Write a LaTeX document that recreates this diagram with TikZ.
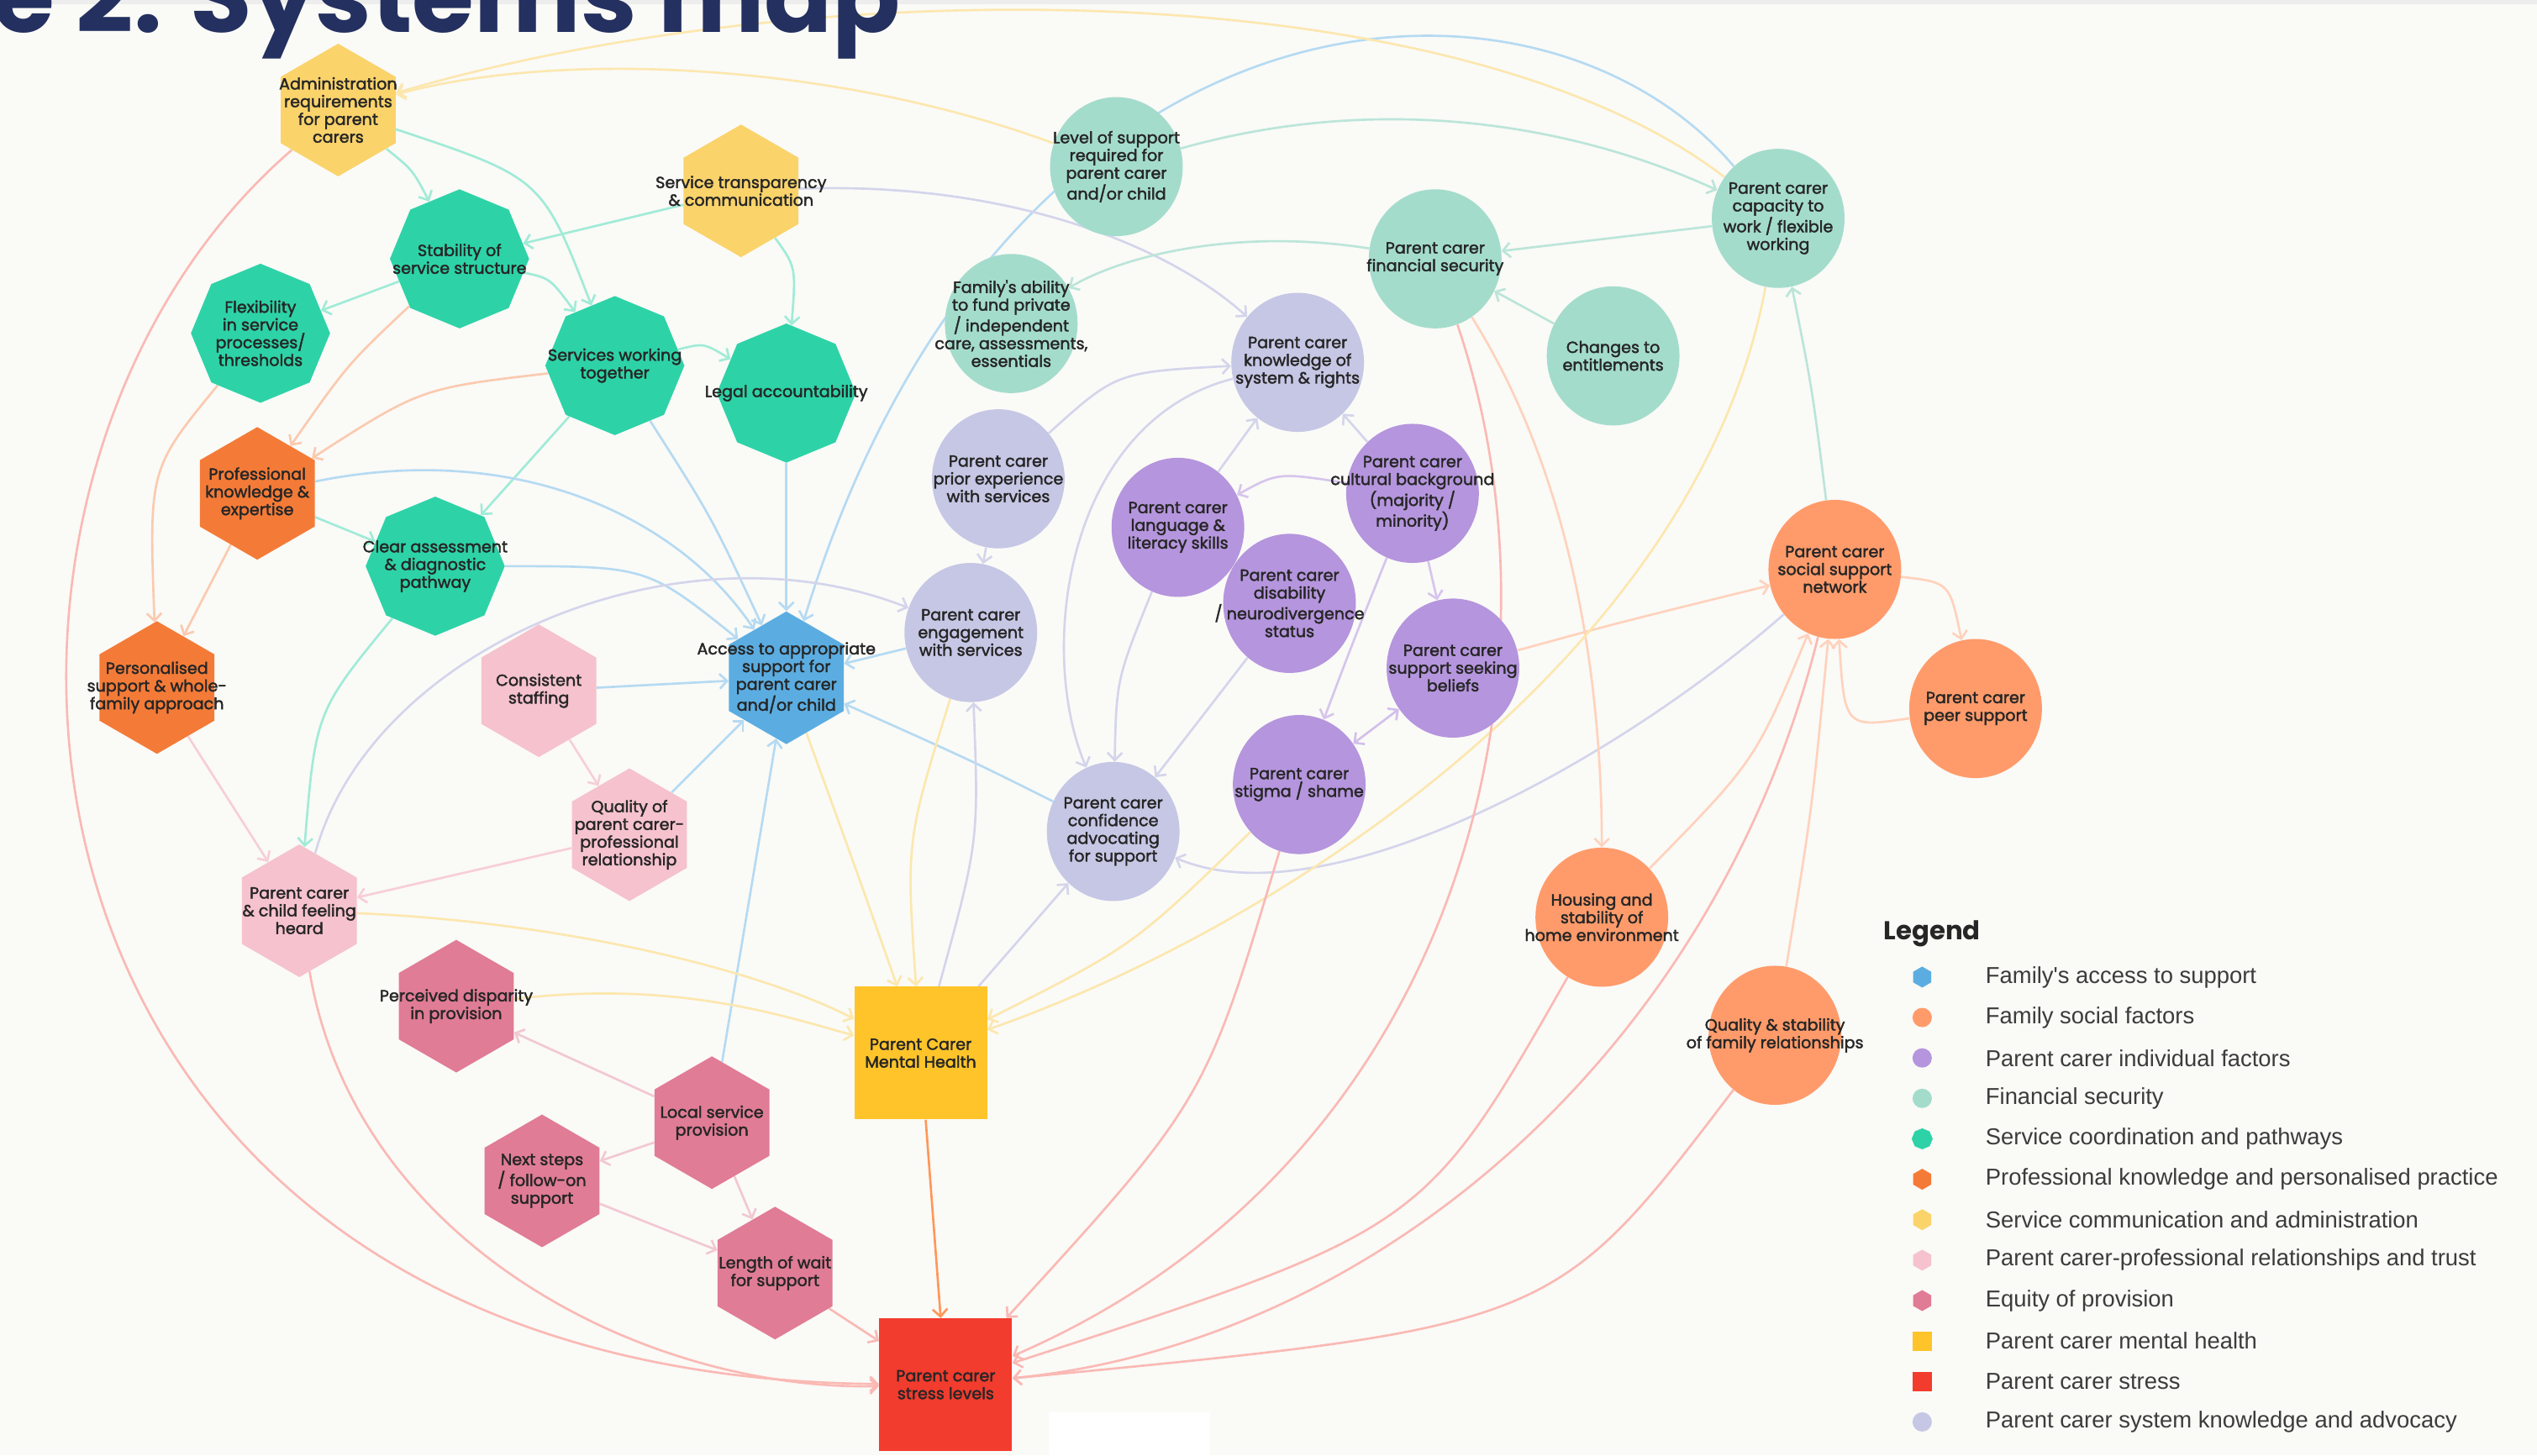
\documentclass[tikz,border=0pt]{standalone}
\usepackage{fontspec}
\setmainfont{Poppins}
\newfontfamily\nf{Poppins}[FakeBold=2]
\newfontfamily\tf{Poppins}
\newfontfamily\lf{Liberation Sans}
\usetikzlibrary{shapes.geometric,arrows.meta}
\pgfdeclarelayer{bg}
\pgfdeclarelayer{edges}
\pgfsetlayers{bg,edges,main}
\definecolor{bgc}{HTML}{FAFAF7}
\definecolor{cYel}{HTML}{FAD36B}
\definecolor{cGrn}{HTML}{2DD3A7}
\definecolor{cOrg}{HTML}{F47B37}
\definecolor{cBlu}{HTML}{5BADE1}
\definecolor{cLPk}{HTML}{F5C2CD}
\definecolor{cPnk}{HTML}{E07C95}
\definecolor{cMH}{HTML}{FEC42A}
\definecolor{cRed}{HTML}{F23C2E}
\definecolor{cTeal}{HTML}{A4DCCC}
\definecolor{cLav}{HTML}{C6C7E5}
\definecolor{cPur}{HTML}{B595DD}
\definecolor{cOrL}{HTML}{FF9B6B}
\definecolor{navy}{HTML}{24305F}
\definecolor{txtc}{HTML}{262626}
\definecolor{legc}{HTML}{3C3C3C}
\tikzset{
  txt/.style={font=\nf\fontsize{10.9}{12}\selectfont, align=center, text=txtc, inner sep=0pt},
  hexS/.style={regular polygon, regular polygon sides=6, shape border rotate=30, minimum size=3.157cm, inner sep=0pt},
  octS/.style={regular polygon, regular polygon sides=8, shape border rotate=22.5, minimum size=3.31cm, inner sep=0pt},
  cirS/.style={ellipse, minimum width=3.157cm, minimum height=3.31cm, inner sep=0pt},
  sqS/.style={rectangle, minimum size=3.16cm, inner sep=0pt},
  ed/.style={line width=1.5pt, -{Straight Barb[length=5pt,width=10pt]}},
  edd/.style={line width=1.5pt, {Straight Barb[length=5pt,width=10pt]}-{Straight Barb[length=5pt,width=10pt]}},
  eG/.style={ed, draw=cGrn!45!white},
  eO/.style={ed, draw=cOrg!40!white},
  eLP/.style={ed, draw=cLPk!80!white},
  ePk/.style={ed, draw=cPnk!42!white},
  eB/.style={ed, draw=cBlu!45!white},
  eL/.style={ed, draw=cLav!75!white},
  eP/.style={ed, draw=cPur!55!white},
  eP2/.style={edd, draw=cPur!60!white},
  eOL/.style={ed, draw=cOrL!45!white},
  eT/.style={ed, draw=cTeal!75!white},
  eY/.style={ed, draw=cYel!55!white},
  eR/.style={ed, draw=cRed!36!white},
  eMS/.style={ed, draw=orange!75!red!65!white},
  legt/.style={anchor=west, font=\lf\fontsize{15.6}{18}\selectfont, text=legc},
}
\begin{document}
\begin{tikzpicture}[x=0.0385cm, y=-0.0385cm]
\begin{pgfonlayer}{bg}
\fill[bgc] (0,0) rectangle (1568,899.6);
\fill[black!7] (0,0) rectangle (1568,2.5);
\end{pgfonlayer}
\useasboundingbox (0,0) rectangle (1568,899.6);
\clip (0,0) rectangle (1568,899.6);

% ---------- nodes ----------
\node[hexS, fill=cYel, label={[txt]center:{Administration\\requirements\\for parent\\carers}}] (admin) at (209,68) {};
\node[hexS, fill=cYel, label={[txt]center:{Service transparency\\\& communication}}] (servt) at (458,118) {};
\node[octS, fill=cGrn, label={[txt]center:{Stability of\\service structure}}] (stab) at (284,160) {};
\node[octS, fill=cGrn, label={[txt]center:{Flexibility\\in service\\processes/\\thresholds}}] (flex) at (161,206) {};
\node[octS, fill=cGrn, label={[txt]center:{Services working\\together}}] (swt) at (380,226) {};
\node[octS, fill=cGrn, label={[txt]center:{Legal accountability}}] (legal) at (486,243) {};
\node[hexS, fill=cOrg, label={[txt]center:{Professional\\knowledge \&\\expertise}}] (pk) at (159,305) {};
\node[octS, fill=cGrn, label={[txt]center:{Clear assessment\\\& diagnostic\\pathway}}] (ca) at (269,350) {};
\node[hexS, fill=cOrg, label={[txt]center:{Personalised\\support \& whole-\\family approach}}] (pers) at (97,425) {};
\node[hexS, fill=cLPk, label={[txt]center:{Consistent\\staffing}}] (cons) at (333,427) {};
\node[hexS, fill=cBlu, label={[txt]center:{Access to appropriate\\support for\\parent carer\\and/or child}}] (access) at (486,419) {};
\node[hexS, fill=cLPk, label={[txt]center:{Quality of\\parent carer-\\professional\\relationship}}] (qual) at (389,516) {};
\node[hexS, fill=cLPk, label={[txt]center:{Parent carer\\\& child feeling\\heard}}] (heard) at (185,563) {};
\node[hexS, fill=cPnk, label={[txt]center:{Perceived disparity\\in provision}}] (disp) at (282,622) {};
\node[hexS, fill=cPnk, label={[txt]center:{Local service\\provision}}] (lsp) at (440,694) {};
\node[hexS, fill=cPnk, label={[txt]center:{Next steps\\/ follow-on\\support}}] (next) at (335,730) {};
\node[hexS, fill=cPnk, label={[txt]center:{Length of wait\\for support}}] (wait) at (479,787) {};
\node[sqS, fill=cMH, label={[txt]center:{Parent Carer\\Mental Health}}] (mh) at (569,651) {};
\node[sqS, fill=cRed, label={[txt]center:{Parent carer\\stress levels}}] (stress) at (584.5,856) {};

\node[cirS, fill=cTeal, label={[txt]center:{Level of support\\required for\\parent carer\\and/or child}}] (level) at (690,103) {};
\node[cirS, fill=cTeal, label={[txt]center:{Parent carer\\financial security}}] (finsec) at (887,160) {};
\node[cirS, fill=cTeal, label={[txt]center:{Parent carer\\capacity to\\work / flexible\\working}}] (capac) at (1099,135) {};
\node[cirS, fill=cTeal, label={[txt]center:{Changes to\\entitlements}}] (changes) at (997,220) {};
\node[cirS, fill=cTeal, label={[txt]center:{Family's ability\\to fund private\\/ independent\\care, assessments,\\essentials}}] (fund) at (625,200) {};
\node[cirS, fill=cLav, label={[txt]center:{Parent carer\\knowledge of\\system \& rights}}] (know) at (802,224) {};
\node[cirS, fill=cLav, label={[txt]center:{Parent carer\\prior experience\\with services}}] (prior) at (617,296) {};
\node[cirS, fill=cPur, label={[txt]center:{Parent carer\\cultural background\\(majority /\\minority)}}] (cult) at (873,305) {};
\node[cirS, fill=cPur, label={[txt]center:{Parent carer\\language \&\\literacy skills}}] (lang) at (728,326) {};
\node[cirS, fill=cPur, label={[txt]center:{Parent carer\\disability\\/ neurodivergence\\status}}] (disab) at (797,373) {};
\node[cirS, fill=cLav, label={[txt]center:{Parent carer\\engagement\\with services}}] (engage) at (600,391) {};
\node[cirS, fill=cPur, label={[txt]center:{Parent carer\\support seeking\\beliefs}}] (seek) at (898,413) {};
\node[cirS, fill=cPur, label={[txt]center:{Parent carer\\stigma / shame}}] (stigma) at (803,485) {};
\node[cirS, fill=cLav, label={[txt]center:{Parent carer\\confidence\\advocating\\for support}}] (conf) at (688,514) {};
\node[cirS, fill=cOrL, label={[txt]center:{Parent carer\\social support\\network}}] (social) at (1134,352) {};
\node[cirS, fill=cOrL, label={[txt]center:{Parent carer\\peer support}}] (peer) at (1221,438) {};
\node[cirS, fill=cOrL, label={[txt]center:{Housing and\\stability of\\home environment}}] (housing) at (990,567) {};
\node[cirS, fill=cOrL, label={[txt]center:{Quality \& stability\\of family relationships}}] (famrel) at (1097,640) {};

% ---------- connectors ----------
\begin{pgfonlayer}{edges}
% service coordination
\draw[eG] (stab) -- (flex);
\draw[eG] (stab) .. controls (340,172) .. (swt);
\draw[eG] (admin) .. controls (255,105) .. (stab);
\draw[eG] (admin) .. controls (335,110) .. (swt);
\draw[eG] (servt) -- (stab);
\draw[eG] (servt) .. controls (492,165) .. (legal);
\draw[eG] (swt) .. controls (435,212) .. (legal);
\draw[eG] (swt) -- (ca);
\draw[eG] (pk) -- (ca);
\draw[eG] (ca) .. controls (195,440) .. (heard);
% professional
\draw[eO] (stab) .. controls (215,225) .. (pk);
\draw[eO] (swt) .. controls (260,240) .. (pk);
\draw[eO] (pk) -- (pers);
\draw[eO] (flex) .. controls (92,290) .. (pers);
% relationships
\draw[eLP] (pers) -- (heard);
\draw[eLP] (cons) -- (qual);
\draw[eLP] (qual) -- (heard);
% equity
\draw[ePk] (lsp) -- (disp);
\draw[ePk] (lsp) -- (next);
\draw[ePk] (lsp) -- (wait);
\draw[ePk] (next) -- (wait);
% access
\draw[eB] (swt) .. controls (440,320) .. (access);
\draw[eB] (legal) -- (access);
\draw[eB] (ca) .. controls (400,350) .. (access);
\draw[eB] (pk) .. controls (320,272) and (420,320) .. (access);
\draw[eB] (cons) -- (access);
\draw[eB] (qual) -- (access);
\draw[eB] (lsp) -- (access);
\draw[eB] (engage) -- (access);
\draw[eB] (conf) .. controls (600,470) .. (access);
\draw[eB] (capac) .. controls (950,-40) and (620,-20) .. (access);
% system knowledge
\draw[eL] (heard) .. controls (230,400) and (420,320) .. (engage);
\draw[eL] (servt) .. controls (620,112) and (720,150) .. (know);
\draw[eL] (prior) .. controls (690,230) .. (know);
\draw[eL] (lang) -- (know);
\draw[eL] (cult) -- (know);
\draw[eL] (know) .. controls (660,260) and (640,400) .. (conf);
\draw[eL] (prior) -- (engage);
\draw[eL] (lang) .. controls (690,420) .. (conf);
\draw[eL] (disab) -- (conf);
\draw[eL] (social) .. controls (1000,470) and (820,570) .. (conf);
\draw[eL] (mh) -- (conf);
\draw[eL] (mh) .. controls (605,520) .. (engage);
% individual
\draw[eP] (cult) .. controls (790,292) .. (lang);
\draw[eP] (cult) -- (seek);
\draw[eP] (cult) .. controls (835,400) .. (stigma);
\draw[eP2] (seek) -- (stigma);
% social
\draw[eOL] (seek) .. controls (1000,385) .. (social);
\draw[eOL] (social) .. controls (1205,360) .. (peer);
\draw[eOL] (peer) .. controls (1140,450) .. (social);
\draw[eOL] (housing) .. controls (1085,470) .. (social);
\draw[eOL] (famrel) .. controls (1120,500) .. (social);
\draw[eOL] (finsec) .. controls (975,300) and (990,430) .. (housing);
% financial
\draw[eT] (level) .. controls (860,55) and (980,80) .. (capac);
\draw[eT] (capac) -- (finsec);
\draw[eT] (changes) -- (finsec);
\draw[eT] (finsec) .. controls (760,140) and (690,160) .. (fund);
\draw[eT] (social) .. controls (1120,240) .. (capac);
% administration
\draw[eY] (level) .. controls (520,40) and (350,30) .. (admin);
\draw[eY] (capac) .. controls (900,-18) and (500,-18) .. (admin);
% mental health
\draw[eY] (access) .. controls (530,540) .. (mh);
\draw[eY] (engage) .. controls (560,520) .. (mh);
\draw[eY] (heard) .. controls (350,570) and (470,600) .. (mh);
\draw[eY] (disp) .. controls (420,605) and (490,630) .. (mh);
\draw[eY] (stigma) .. controls (700,585) .. (mh);
\draw[eY] (capac) .. controls (1050,400) and (800,570) .. (mh);
% stress
\draw[eMS] (mh) -- (stress);
\draw[eR] (wait) -- (stress);
\draw[eR] (admin) .. controls (-60,300) and (-20,850) .. (stress);
\draw[eR] (heard) .. controls (220,770) and (400,860) .. (stress);
\draw[eR] (stigma) .. controls (745,680) .. (stress);
\draw[eR] (finsec) .. controls (975,420) and (900,720) .. (stress);
\draw[eR] (housing) .. controls (880,760) .. (stress);
\draw[eR] (social) .. controls (1060,650) and (850,830) .. (stress);
\draw[eR] (famrel) .. controls (960,820) .. (stress);
\end{pgfonlayer}

% ---------- legend ----------
\node[anchor=west, font=\tf\bfseries\fontsize{17.5}{20}\selectfont, text=black!85] (legend) at (1161,577) {Legend};
\node[regular polygon, regular polygon sides=6, shape border rotate=30, minimum size=0.5cm, inner sep=0pt, fill=cBlu] (m1) at (1188,604) {};
\node[circle, minimum size=0.46cm, inner sep=0pt, fill=cOrL] (m2) at (1188,629) {};
\node[circle, minimum size=0.46cm, inner sep=0pt, fill=cPur] (m3) at (1188,654) {};
\node[circle, minimum size=0.46cm, inner sep=0pt, fill=cTeal] (m4) at (1188,679) {};
\node[regular polygon, regular polygon sides=8, shape border rotate=22.5, minimum size=0.5cm, inner sep=0pt, fill=cGrn] (m5) at (1188,704) {};
\node[regular polygon, regular polygon sides=6, shape border rotate=30, minimum size=0.5cm, inner sep=0pt, fill=cOrg] (m6) at (1188,729) {};
\node[regular polygon, regular polygon sides=6, shape border rotate=30, minimum size=0.5cm, inner sep=0pt, fill=cYel] (m7) at (1188,754) {};
\node[regular polygon, regular polygon sides=6, shape border rotate=30, minimum size=0.5cm, inner sep=0pt, fill=cLPk] (m8) at (1188,779) {};
\node[regular polygon, regular polygon sides=6, shape border rotate=30, minimum size=0.5cm, inner sep=0pt, fill=cPnk] (m9) at (1188,804) {};
\node[rectangle, minimum size=0.46cm, inner sep=0pt, fill=cMH] (m10) at (1188,829) {};
\node[rectangle, minimum size=0.46cm, inner sep=0pt, fill=cRed] (m11) at (1188,854) {};
\node[circle, minimum size=0.46cm, inner sep=0pt, fill=cLav] (m12) at (1188,879) {};
\node[legt] (l1) at (1224,604) {Family's access to support};
\node[legt] (l2) at (1224,629) {Family social factors};
\node[legt] (l3) at (1224,654) {Parent carer individual factors};
\node[legt] (l4) at (1224,679) {Financial security};
\node[legt] (l5) at (1224,704) {Service coordination and pathways};
\node[legt] (l6) at (1224,729) {Professional knowledge and personalised practice};
\node[legt] (l7) at (1224,754) {Service communication and administration};
\node[legt] (l8) at (1224,779) {Parent carer-professional relationships and trust};
\node[legt] (l9) at (1224,804) {Equity of provision};
\node[legt] (l10) at (1224,829) {Parent carer mental health};
\node[legt] (l11) at (1224,854) {Parent carer stress};
\node[legt] (l12) at (1224,879) {Parent carer system knowledge and advocacy};

% ---------- title and white patch ----------
\node[anchor=base east, inner sep=0pt, text=navy, font=\tf\bfseries\fontsize{68}{70}\selectfont] (title) at (557,20) {Figure 2. Systems map};
\fill[white] (648,873) rectangle (748,900);
\end{tikzpicture}
\end{document}
